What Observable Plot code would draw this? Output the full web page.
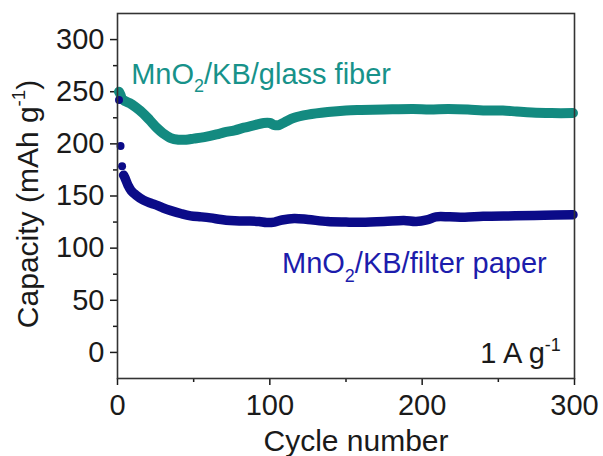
<!DOCTYPE html>
<html><head><meta charset="utf-8">
<script src="https://cdn.jsdelivr.net/npm/d3@7"></script>
<script src="https://cdn.jsdelivr.net/npm/@observablehq/plot@0.6"></script>
<style>
html,body{margin:0;padding:0;background:#fff;}
#chart svg{display:block;}
</style></head><body><div id="chart"></div>
<script>
const xTicks = [0, 100, 200, 300];
const xMinorTicks = [50, 150, 250];
const yTicks = [0, 50, 100, 150, 200, 250, 300];
const yMinorTicks = [25, 75, 125, 175, 225, 275];

const glassCycles   = [1, 2, 3, 5, 8, 12, 17, 21, 26, 30, 35, 40, 45, 50, 57, 65, 70, 77, 83, 90, 96, 100, 103, 106, 110, 116, 125, 138, 150, 160, 175, 194, 205, 217, 230, 240, 253, 262, 272, 285, 299];
const glassCapacity = [250, 247, 243, 241, 239, 235, 229, 223, 215, 210, 205.5, 204, 204, 205, 206.5, 209, 211, 213, 215.5, 218, 220, 220, 218, 218, 221, 225, 228, 230.5, 232, 232.5, 233, 233.5, 233, 233.5, 233, 232, 232, 231, 230, 229.5, 229.5];

const paperCycles   = [1, 2, 3, 4, 5, 7, 9, 12, 17, 22, 26, 30, 35, 42, 48, 55, 61, 68, 74, 80, 87, 93, 98, 103, 108, 116, 125, 138, 150, 160, 175, 188, 196, 203, 209, 218, 228, 240, 261, 280, 299];
const paperCapacity = [242, 198, 178.5, 170, 167, 160, 155, 151, 146, 143, 141, 138.5, 136, 133, 131, 130, 129, 127.5, 126.5, 126, 126, 125.5, 124.5, 125, 127, 128.5, 127.5, 125.5, 125, 124.8, 125.5, 126.5, 125.5, 127, 130, 130, 129.6, 130.5, 131, 131.5, 132];

const glassLabel = "MnO2/KB/glass fiber";
const paperLabel = "MnO2/KB/filter paper";
const rateLabel = "1 A g-1";
const xTitle = "Cycle number";
const yTitle = "Capacity (mAh g-1)";

const tealColor = "#138a80";
const navyColor = "#0b0b88";
const tealText = "#17928a";
const blueText = "#1c1cac";

const glass = glassCycles.map((c, i) => ({cycle: c, capacity: glassCapacity[i]}));
const paper = paperCycles.map((c, i) => ({cycle: c, capacity: paperCapacity[i]}));

const FS = 29;

const chart = Plot.plot({
  width: 603,
  height: 456,
  marginLeft: 117,
  marginRight: 29,
  marginTop: 13,
  marginBottom: 78,
  style: {fontFamily: "'Liberation Sans', Arial, sans-serif", background: "#fff", color: "#1a1a1a"},
  x: {domain: [0, 300]},
  y: {domain: [-25, 325]},
  marks: [
    Plot.axisX({ticks: xTicks, tickSize: 7, tickPadding: 9, fontSize: FS, label: null, strokeWidth: 1.5}),
    Plot.axisX({ticks: xMinorTicks, tickSize: 4, tickFormat: () => "", label: null, strokeWidth: 1.5}),
    Plot.axisY({ticks: yTicks, tickSize: 7, tickPadding: 6, fontSize: FS, label: null, strokeWidth: 1.5}),
    Plot.axisY({ticks: yMinorTicks, tickSize: 4, tickFormat: () => "", label: null, strokeWidth: 1.5}),
    Plot.line(glass, {x: "cycle", y: "capacity", stroke: tealColor, strokeWidth: 10, curve: "catmull-rom"}),
    Plot.line(paper.filter(d => d.cycle >= 4), {x: "cycle", y: "capacity", stroke: navyColor, strokeWidth: 9.5, curve: "catmull-rom"}),
    Plot.dot(paper.filter(d => d.cycle < 4), {x: "cycle", y: "capacity", r: 4, fill: navyColor}),
    Plot.text([glassLabel], {x: 9, y: 257.7, text: d => d, textAnchor: "start", lineAnchor: "bottom", fontSize: FS, fill: tealText}),
    Plot.text([paperLabel], {x: 108, y: 75.7, text: d => d, textAnchor: "start", lineAnchor: "bottom", fontSize: FS, fill: blueText}),
    Plot.text([rateLabel], {x: 291, y: -10.5, text: d => d, textAnchor: "end", lineAnchor: "bottom", fontSize: FS, fill: "#1a1a1a"}),
    Plot.text([xTitle], {frameAnchor: "bottom", dx: 10, dy: 72, text: d => d, textAnchor: "middle", lineAnchor: "bottom", fontSize: 30, fill: "#1a1a1a"}),
    Plot.text([yTitle], {frameAnchor: "left", dx: -80, dy: 8, rotate: -90, text: d => d, textAnchor: "middle", lineAnchor: "bottom", fontSize: 30, fill: "#1a1a1a"}),
    Plot.frame({stroke: "#333", strokeWidth: 1.6})
  ]
});

function richText(svg, str, parts, fs) {
  svg.querySelectorAll("text").forEach(t => {
    if (t.textContent !== str) return;
    while (t.firstChild) t.removeChild(t.firstChild);
    let shift = 0;
    parts.forEach(p => {
      const ts = document.createElementNS("http://www.w3.org/2000/svg", "tspan");
      const target = p.sub ? 0.3 : p.sup ? -0.42 : 0;
      const dy = (target - shift) * fs;
      if (dy !== 0) ts.setAttribute("dy", dy + "px");
      shift = target;
      if (p.sub || p.sup) ts.setAttribute("font-size", (fs * 0.62) + "px");
      ts.textContent = p.t;
      t.appendChild(ts);
    });
  });
}
richText(chart, glassLabel, [{t: "MnO"}, {t: "2", sub: true}, {t: "/KB/glass fiber"}], FS);
richText(chart, paperLabel, [{t: "MnO"}, {t: "2", sub: true}, {t: "/KB/filter paper"}], FS);
richText(chart, rateLabel, [{t: "1 A g"}, {t: "-1", sup: true}], FS);
richText(chart, yTitle, [{t: "Capacity (mAh g"}, {t: "-1", sup: true}, {t: ")"}], 30);

document.getElementById("chart").appendChild(chart);
</script>
</body></html>
